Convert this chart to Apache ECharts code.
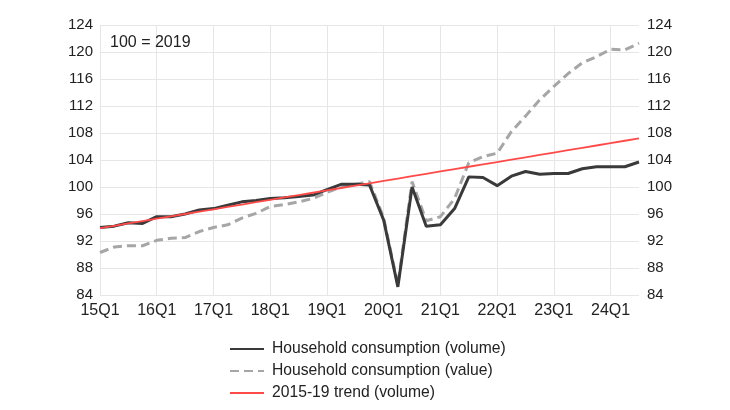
<!DOCTYPE html>
<html>
<head>
<meta charset="utf-8">
<script src="https://cdn.jsdelivr.net/npm/echarts@6/dist/echarts.min.js"></script>
<style>
  html, body { margin: 0; padding: 0; background: #fff; }
  #chart { width: 730px; height: 410px; }
</style>
</head>
<body>
<div id="chart"></div>
<script>
// quarters 15Q1 .. 24Q3
const quarters = [];
for (let y = 15; y <= 24; y++) {
  for (let q = 1; q <= 4; q++) {
    if (y === 24 && q > 3) break;
    quarters.push(y + 'Q' + q);
  }
}

// household consumption, volume (100 = 2019)
const volume = [
  94.0, 94.2, 94.7, 94.6, 95.6, 95.6, 96.0, 96.6, 96.8, 97.3,
  97.8, 98.0, 98.3, 98.4, 98.6, 98.8, 99.6, 100.4, 100.4, 100.3,
  95.1, 85.2, 100.0, 94.2, 94.4, 96.8, 101.5, 101.4, 100.2, 101.6,
  102.3, 101.9, 102.0, 102.0, 102.7, 103.0, 103.0, 103.0, 103.7
];

// household consumption, value
const value = [
  90.3, 91.1, 91.3, 91.3, 92.1, 92.4, 92.5, 93.4, 94.0, 94.4,
  95.4, 96.1, 97.1, 97.4, 97.8, 98.3, 99.2, 100.0, 100.4, 100.8,
  95.4, 85.5, 100.8, 95.0, 95.6, 98.3, 103.6, 104.5, 105.0, 108.2,
  110.5, 112.9, 114.9, 116.8, 118.4, 119.3, 120.4, 120.3, 121.3
];

// 2015-19 trend (volume)
const trend = [
  93.9, 94.25, 94.6, 94.95, 95.3, 95.65, 96.0, 96.35, 96.7, 97.05,
  97.4, 97.75, 98.1, 98.45, 98.8, 99.15, 99.5, 99.85, 100.2, 100.55,
  100.9, 101.25, 101.6, 101.95, 102.3, 102.65, 103.0, 103.35, 103.7, 104.05,
  104.4, 104.75, 105.1, 105.45, 105.8, 106.15, 106.5, 106.85, 107.2
];

const yMin = 84, yMax = 124, yStep = 4;
const font = 'Liberation Sans, Arial, sans-serif';

const chart = echarts.init(document.getElementById('chart'));

const yAxisBase = {
  type: 'value',
  min: yMin,
  max: yMax,
  interval: yStep,
  axisLine: { show: false },
  axisTick: { show: false },
  axisLabel: { color: '#222', fontSize: 15, fontFamily: font },
  splitLine: { show: true, lineStyle: { color: '#e6e6e6', width: 1 } }
};

chart.setOption({
  animation: false,
  grid: { left: 100, right: 91, top: 25, bottom: 115 },
  graphic: [{
    type: 'text',
    left: 110,
    top: 35,
    z: 10,
    style: { text: '100 = 2019', fontSize: 16, fontFamily: font, fill: '#222' }
  }],
  legend: {
    orient: 'vertical',
    left: 224,
    top: 336,
    itemWidth: 34,
    itemHeight: 14,
    itemGap: 6,
    itemStyle: { opacity: 0 },
    textStyle: { color: '#222', fontSize: 15.7, fontFamily: font, padding: [0, 0, 0, 3] },
    data: [
      'Household consumption (volume)',
      'Household consumption (value)',
      '2015-19 trend (volume)'
    ]
  },
  xAxis: {
    type: 'category',
    data: quarters,
    boundaryGap: false,
    axisLine: { show: false },
    axisTick: { show: false },
    axisLabel: { interval: 3, color: '#222', fontSize: 16, fontFamily: font, margin: 8 },
    splitLine: { show: true, interval: 3, lineStyle: { color: '#e6e6e6', width: 1 } }
  },
  yAxis: [
    Object.assign({}, yAxisBase, { position: 'left', axisLabel: Object.assign({}, yAxisBase.axisLabel, { margin: 7 }) }),
    Object.assign({}, yAxisBase, { position: 'right', splitLine: { show: false }, axisLabel: Object.assign({}, yAxisBase.axisLabel, { margin: 8 }) })
  ],
  series: [
    {
      name: 'Household consumption (value)',
      type: 'line',
      data: value,
      symbol: 'none',
      z: 2,
      lineStyle: { color: '#a6a6a6', width: 3, type: [9, 5] },
      itemStyle: { color: '#a6a6a6' }
    },
    {
      name: 'Household consumption (volume)',
      type: 'line',
      data: volume,
      symbol: 'none',
      z: 3,
      lineStyle: { color: '#3a3a3a', width: 3 },
      itemStyle: { color: '#3a3a3a' }
    },
    {
      name: '2015-19 trend (volume)',
      type: 'line',
      data: trend,
      symbol: 'none',
      z: 4,
      lineStyle: { color: '#ff4a4a', width: 1.8 },
      itemStyle: { color: '#ff4a4a' }
    }
  ]
});
</script>
</body>
</html>
